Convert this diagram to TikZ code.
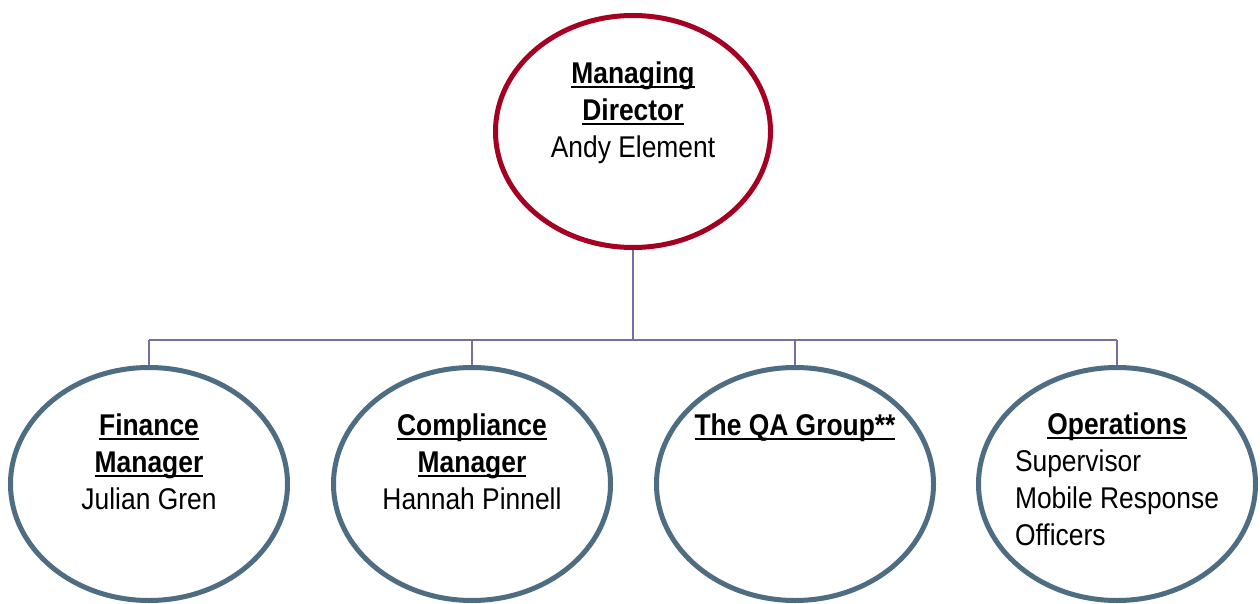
\documentclass[tikz,border=0pt]{standalone}
\usepackage{fontspec}
\setmainfont[FakeStretch=0.88]{Liberation Sans}
\usetikzlibrary{shapes.geometric}
\definecolor{topred}{HTML}{A50021}
\definecolor{botblue}{HTML}{4E6C82}
\definecolor{linkcol}{HTML}{7470A2}
\newcommand\myul[1]{\setbox0\hbox{\bfseries #1}\rlap{\rule[-4.5pt]{\wd0}{2pt}}\box0}
\tikzset{
  topell/.style={ellipse, draw=topred, line width=5pt, fill=white, minimum width=275pt, minimum height=232pt, inner sep=0pt},
  botell/.style={ellipse, draw=botblue, line width=5pt, fill=white, minimum width=277pt, minimum height=233pt, inner sep=0pt},
  txt/.style={anchor=base, inner sep=0pt, font=\fontsize{30}{37}\selectfont},
  link/.style={draw=linkcol, line width=2pt}
}
\begin{document}
\begin{tikzpicture}[x=1pt,y=-1pt]
\useasboundingbox (0,0) rectangle (1260,604);
\node[topell] (md) at (633,131.5) {};
\node[botell] (fin) at (149,484) {};
\node[botell] (comp) at (472,484) {};
\node[botell] (qa) at (795,484) {};
\node[botell] (ops) at (1117,484) {};
\coordinate (j) at (633,340);
\coordinate (jf) at (149,340);
\coordinate (jc) at (472,340);
\coordinate (jq) at (795,340);
\coordinate (jo) at (1117,340);
\draw[link] (md.south) -- (j);
\draw[link] (jf) -- (jo);
\draw[link] (jf) -- (fin.north);
\draw[link] (jc) -- (comp.north);
\draw[link] (jq) -- (qa.north);
\draw[link] (jo) -- (ops.north);
\node[txt] (mdt) at (633,84) {\begin{tabular}[t]{@{}c@{}}\myul{Managing}\\\myul{Director}\\Andy Element\end{tabular}};
\node[txt] (fint) at (149,435) {\begin{tabular}[t]{@{}c@{}}\myul{Finance}\\\myul{Manager}\\Julian Gren\end{tabular}};
\node[txt] (compt) at (472,435) {\begin{tabular}[t]{@{}c@{}}\myul{Compliance}\\\myul{Manager}\\Hannah Pinnell\end{tabular}};
\node[txt] (qat) at (795,435) {\begin{tabular}[t]{@{}c@{}}\myul{The QA Group**}\end{tabular}};
\node[txt] (opst) at (1117,434) {\begin{tabular}[t]{@{}l@{}}\multicolumn{1}{@{}c@{}}{\myul{Operations}}\\Supervisor\\Mobile Response\\Officers\end{tabular}};
\end{tikzpicture}
\end{document}
